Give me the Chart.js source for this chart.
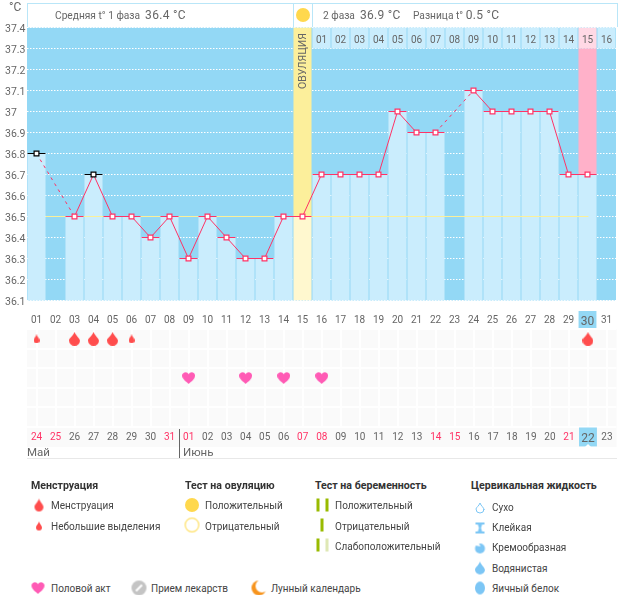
<!DOCTYPE html>
<html lang="ru">
<head>
<meta charset="utf-8">
<title>График</title>
<script src="https://cdn.jsdelivr.net/npm/chart.js@4"></script>
<style>
html, body { margin: 0; padding: 0; background: #fff; }
#page { position: relative; width: 626px; height: 595px; overflow: hidden; font-family: Roboto, sans-serif; color: #444; }
#page canvas.chart { position: absolute; left: 0; }
.t { position: absolute; white-space: nowrap; transform: translateY(-50%); line-height: 1; }
.box { position: absolute; top: 3px; height: 23px; background: #fff; border: 1px solid #b9e6f8; border-bottom: 0; }
.ic { position: absolute; transform: translate(-50%, -50%); }
.head { font-size: 10.2px; color: #666; }
.head b { font-weight: 400; font-size: 12px; letter-spacing: 0.3px; }
.ttl { font-size: 10.6px; font-weight: 700; color: #333; }
.lbl { font-size: 10px; color: #444; }
.line { position: absolute; }
</style>
</head>
<body>
<div id="page">
  <canvas class="chart" id="tempChart" width="626" height="330" style="top:0"></canvas>
  <canvas class="chart" id="markChart" width="626" height="123" style="top:324px"></canvas>
  <div class="box" style="left:27px;width:265px"></div>
  <div class="box" style="left:293px;width:18px"></div>
  <div class="box" style="left:312px;width:304px"></div>
  <div class="t" style="left:9px;top:7px;font-size:12px;color:#666">°C</div>
  <div class="t head" style="left:55px;top:15px">Средняя t° 1 фаза&nbsp; <b>36.4 °C</b></div>
  <div class="t head" style="left:323px;top:15px">2 фаза&nbsp; <b>36.9 °C</b></div>
  <div class="t head" style="left:413px;top:15px">Разница t°&nbsp;<b>0.5 °C</b></div>
  <div class="t" style="left:302.5px;top:61px;font-size:10.5px;color:#666;transform:translate(-50%,-50%) rotate(-90deg)">ОВУЛЯЦИЯ</div>
  <div class="line" style="left:179px;top:429px;width:1px;height:29px;background:#666"></div>
  <div class="line" style="left:27px;top:458px;width:590px;height:1px;background:#e8e8e8"></div>
  <div class="line" style="left:585px;top:441px;border:3px solid transparent;border-bottom-color:#fff"></div>
  <div class="t" style="left:27px;top:453px;font-size:11.5px;color:#666">Май</div>
  <div class="t" style="left:183px;top:453px;font-size:11.5px;color:#666">Июнь</div>
</div>
<script>
// Cycle days on the lower axis and second phase days in the top row
const cycleDays = ['01','02','03','04','05','06','07','08','09','10','11','12','13','14','15','16','17','18','19','20','21','22','23','24','25','26','27','28','29','30','31'];
const phaseDays = ['','','','','','','','','','','','','','','','01','02','03','04','05','06','07','08','09','10','11','12','13','14','15','16'];
const calendarDates = ['24','25','26','27','28','29','30','31','01','02','03','04','05','06','07','08','09','10','11','12','13','14','15','16','17','18','19','20','21','22','23'];
const redDates = [0, 1, 7, 8, 14, 15, 21, 22, 28];
const todayIndex = 29;
const ovulationIndex = 14;

const temps = [36.8,null,36.5,36.7,36.5,36.5,36.4,36.5,36.3,36.5,36.4,36.3,36.3,36.5,36.5,36.7,36.7,36.7,36.7,37,36.9,36.9,null,37.1,37,37,37,37,36.7,36.7,null];
const blackMarks = [0, 3];
const meanLine = [{x: 1.47, y: 36.5}, {x: 30.05, y: 36.5}];

// Columns filled above the temperature: ovulation day and period start
const topBands = cycleDays.map(() => null);
topBands[ovulationIndex] = [36.5, 37.4];
topBands[todayIndex] = [36.7, 37.3];
const phaseCells = phaseDays.map(d => d ? [37.3, 37.4] : null);

const heavyFlow = [null,null,0.5,0.5,0.5,null,null,null,null,null,null,null,null,null,null,null,null,null,null,null,null,null,null,null,null,null,null,null,null,0.5,null];
const lightFlow = [0.5,null,null,null,null,0.5,null,null,null,null,null,null,null,null,null,null,null,null,null,null,null,null,null,null,null,null,null,null,null,null,null];
const hearts = [null,null,null,null,null,null,null,null,2.5,null,null,2.5,null,2.5,null,2.5,null,null,null,null,null,null,null,null,null,null,null,null,null,null,null];

const COL_BLUE = '#93d8f5';
const COL_LIGHT = '#caedfd';
const COL_RED = '#ff3366';
const TICK_GREY = '#666';

Chart.defaults.font.family = 'Roboto, sans-serif';
Chart.defaults.font.size = 10;
Chart.defaults.animation = false;
Chart.defaults.responsive = false;
Chart.defaults.events = [];

// fills the plot area (and the tick band under it, if asked) before anything else
const areaFill = {
    id: 'areaFill',
    beforeDraw(chart, args, opts) {
        const a = chart.chartArea;
        chart.ctx.fillStyle = opts.color;
        chart.ctx.fillRect(a.left, a.top, a.right - a.left, a.bottom - a.top + (opts.below || 0));
    }
};

function makeIcon(w, h, draw) {
    const c = document.createElement('canvas');
    c.width = w;
    c.height = h;
    draw(c.getContext('2d'), w, h);
    return c;
}

function dropPath(g, w, h) {
    g.beginPath();
    g.moveTo(w / 2, 0);
    g.bezierCurveTo(w * 0.62, h * 0.3, w, h * 0.45, w, h * 0.68);
    g.arc(w / 2, h - w / 2, w / 2, 0, Math.PI);
    g.bezierCurveTo(0, h * 0.45, w * 0.38, h * 0.3, w / 2, 0);
    g.closePath();
}

function drop(w, h, color) {
    return makeIcon(w, h, g => { dropPath(g, w, h); g.fillStyle = color; g.fill(); });
}

function heart(w, h, color) {
    return makeIcon(w, h, g => {
        g.beginPath();
        g.moveTo(w / 2, h);
        g.bezierCurveTo(w * 0.3, h * 0.8, 0, h * 0.6, 0, h * 0.3);
        g.bezierCurveTo(0, 0, w * 0.4, -h * 0.1, w / 2, h * 0.2);
        g.bezierCurveTo(w * 0.6, -h * 0.1, w, 0, w, h * 0.3);
        g.bezierCurveTo(w, h * 0.6, w * 0.7, h * 0.8, w / 2, h);
        g.closePath();
        g.fillStyle = color;
        g.fill();
    });
}

const tempChart = new Chart(document.getElementById('tempChart'), {
    data: {
        labels: cycleDays,
        datasets: [
            {
                type: 'line',
                data: temps,
                order: 1,
                spanGaps: true,
                borderColor: COL_RED,
                borderWidth: 1,
                tension: 0,
                segment: {
                    borderDash: ctx => ctx.p0.skip || ctx.p1.skip ? [3, 4] : undefined
                },
                pointStyle: 'rect',
                pointRadius: 3.4,
                pointBorderWidth: 1.2,
                pointBackgroundColor: '#fff',
                pointBorderColor: ctx => blackMarks.includes(ctx.dataIndex) ? '#000' : COL_RED
            },
            {
                type: 'line',
                data: temps,
                order: 2,
                showLine: false,
                pointStyle: 'line',
                pointRadius: 9,
                pointBorderWidth: 1,
                pointBorderColor: ctx => blackMarks.includes(ctx.dataIndex) ? '#000' : COL_RED
            },
            {
                type: 'line',
                data: meanLine,
                xAxisID: 'xDay',
                order: 3,
                borderColor: '#fbf09a',
                borderWidth: 1,
                pointRadius: 0
            },
            {
                type: 'bar',
                data: temps.map(t => t === null ? null : [36.1, t]),
                order: 4,
                grouped: false,
                barPercentage: 0.95,
                categoryPercentage: 1,
                backgroundColor: ctx => ctx.dataIndex === ovulationIndex ? '#fff8cf' : COL_LIGHT
            },
            {
                type: 'bar',
                data: topBands,
                order: 4,
                grouped: false,
                barPercentage: 0.95,
                categoryPercentage: 1,
                backgroundColor: ctx => ctx.dataIndex === ovulationIndex ? '#fcef9b' : '#ffb1c9'
            },
            {
                type: 'bar',
                data: phaseCells,
                order: 4,
                grouped: false,
                barPercentage: 0.95,
                categoryPercentage: 1,
                backgroundColor: ctx => ctx.dataIndex === todayIndex ? '#ffd9e5' : COL_LIGHT
            }
        ]
    },
    options: {
        maintainAspectRatio: false,
        layout: { padding: { top: 27.5, left: 5, right: 9.5 } },
        plugins: { legend: { display: false }, tooltip: { enabled: false }, areaFill: { color: COL_BLUE } },
        scales: {
            x: {
                type: 'category',
                offset: true,
                grid: { display: false },
                border: { display: false },
                afterFit: s => { s.height = 29.5; },
                ticks: {
                    autoSkip: false,
                    maxRotation: 0,
                    padding: 6,
                    color: TICK_GREY,
                    font: ctx => ({ size: ctx.index === todayIndex ? 12 : 10 }),
                    showLabelBackdrop: ctx => ctx.index === todayIndex,
                    backdropColor: COL_BLUE,
                    backdropPadding: { top: 3.5, bottom: 1, left: 2.2, right: 2.2 }
                }
            },
            // second phase days, the axis sits on the top edge of the plot
            xTop: {
                type: 'category',
                position: { y: 37.4 },
                labels: phaseDays,
                offset: true,
                grid: { display: false },
                border: { display: false },
                ticks: { autoSkip: false, maxRotation: 0, padding: -1, color: TICK_GREY, z: 1 }
            },
            xDay: { type: 'linear', display: false, min: 0.5, max: 31.5 },
            y: {
                min: 36.1,
                max: 37.4,
                grid: { color: '#fff', drawTicks: false, lineWidth: 1 },
                border: { display: false, dash: [1.5, 1.5] },
                afterFit: s => { s.width = 22; },
                ticks: {
                    stepSize: 0.1,
                    padding: 0,
                    labelOffset: 2,
                    crossAlign: 'far',
                    color: TICK_GREY,
                    font: { size: 10.5 },
                    callback: v => String(+v.toFixed(1))
                }
            }
        }
    },
    plugins: [areaFill]
});

const markChart = new Chart(document.getElementById('markChart'), {
    data: {
        labels: calendarDates,
        datasets: [
            { type: 'line', data: heavyFlow, showLine: false, pointStyle: drop(11, 14, '#ff4d4d') },
            { type: 'line', data: lightFlow, showLine: false, pointStyle: drop(6, 9, '#ff4d4d') },
            { type: 'line', data: hearts, showLine: false, pointStyle: heart(13, 12, '#ff5bb5') }
        ]
    },
    options: {
        maintainAspectRatio: false,
        layout: { padding: { right: 9.5 } },
        plugins: { legend: { display: false }, tooltip: { enabled: false }, areaFill: { color: '#fafafa', below: 20 } },
        scales: {
            x: {
                type: 'category',
                offset: true,
                grid: { color: '#fff', drawTicks: false, lineWidth: 2 },
                border: { display: false },
                afterFit: s => { s.height = 20; },
                ticks: {
                    autoSkip: false,
                    maxRotation: 0,
                    padding: 4.5,
                    color: ctx => redDates.includes(ctx.index) ? COL_RED : TICK_GREY,
                    font: ctx => ({ size: ctx.index === todayIndex ? 12 : 10 }),
                    showLabelBackdrop: ctx => ctx.index === todayIndex,
                    backdropColor: COL_BLUE,
                    backdropPadding: { top: 4, bottom: 0.5, left: 2.2, right: 2.2 }
                }
            },
            y: {
                min: 0,
                max: 5,
                reverse: true,
                grid: { color: '#fff', drawTicks: false, lineWidth: 2 },
                border: { display: false },
                afterFit: s => { s.width = 27; },
                ticks: { stepSize: 1, display: false }
            }
        }
    },
    plugins: [areaFill]
});

// Legend below the charts
const page = document.getElementById('page');

function putText(cls, x, y, text) {
    const el = document.createElement('div');
    el.className = 't ' + cls;
    el.style.left = x + 'px';
    el.style.top = y + 'px';
    el.textContent = text;
    page.appendChild(el);
}

function putIcon(x, y, icon) {
    icon.className = 'ic';
    icon.style.left = x + 'px';
    icon.style.top = y + 'px';
    page.appendChild(icon);
}

function disc(d, color) {
    return makeIcon(d, d, (g, w) => {
        g.beginPath();
        g.arc(w / 2, w / 2, w / 2, 0, Math.PI * 2);
        g.fillStyle = color;
        g.fill();
    });
}

function pill(color) {
    return makeIcon(3, 13, (g, w, h) => { g.fillStyle = color; g.fillRect(0, 0, w, h); });
}

const SKY = '#7cc6f5';

putText('ttl', 31, 486, 'Менструация');
putIcon(38.5, 505, drop(9, 13, '#ff4d4d'));
putText('lbl', 51, 505.5, 'Менструация');
putIcon(38.5, 526, drop(6, 9, '#ff4d4d'));
putText('lbl', 51, 526.5, 'Небольшие выделения');

putText('ttl', 185, 486, 'Тест на овуляцию');
putIcon(192, 505, disc(14, '#ffd84d'));
putText('lbl', 205, 505.5, 'Положительный');
putIcon(192, 525, makeIcon(15, 15, g => {
    g.beginPath();
    g.arc(7.5, 7.5, 6.8, 0, Math.PI * 2);
    g.strokeStyle = '#ffe066';
    g.lineWidth = 1.2;
    g.stroke();
}));
putText('lbl', 205, 526.5, 'Отрицательный');

putText('ttl', 315, 486, 'Тест на беременность');
putIcon(317.5, 505, pill('#99bb00'));
putIcon(326.5, 505, pill('#99bb00'));
putText('lbl', 335, 505.5, 'Положительный');
putIcon(322, 525, pill('#99bb00'));
putText('lbl', 335, 526.5, 'Отрицательный');
putIcon(317.5, 545, pill('#99bb00'));
putIcon(326.5, 545, pill('#dfe8b5'));
putText('lbl', 335, 546.5, 'Слабоположительный');

putText('ttl', 471, 486, 'Цервикальная жидкость');
putIcon(479.5, 508, makeIcon(10, 12, (g, w, h) => {
    g.translate(1, 1);
    dropPath(g, w - 2, h - 2);
    g.strokeStyle = SKY;
    g.lineWidth = 1;
    g.stroke();
}));
putText('lbl', 492, 507.5, 'Сухо');
putIcon(479.5, 528, makeIcon(9, 11, (g, w, h) => {
    g.fillStyle = SKY;
    g.fillRect(0, 0, w, 2);
    g.fillRect(0, h - 2, w, 2);
    g.beginPath();
    g.moveTo(2, 1);
    g.lineTo(w - 2, 1);
    g.lineTo(w / 2 + 1, h / 2);
    g.lineTo(w - 2, h - 1);
    g.lineTo(2, h - 1);
    g.lineTo(w / 2 - 1, h / 2);
    g.closePath();
    g.fill();
}));
putText('lbl', 492, 528, 'Клейкая');
putIcon(479.5, 548, makeIcon(11, 11, g => {
    g.beginPath();
    g.arc(5.5, 6, 5, 0, Math.PI * 2);
    g.fillStyle = SKY;
    g.fill();
    g.beginPath();
    g.moveTo(0, 0);
    g.lineTo(4, 0);
    g.lineTo(6, 4);
    g.lineTo(1, 3);
    g.closePath();
    g.fillStyle = '#fff';
    g.fill();
}));
putText('lbl', 492, 548, 'Кремообразная');
putIcon(479.5, 568, drop(10, 13, SKY));
putText('lbl', 492, 568.5, 'Водянистая');
putIcon(479.5, 588, makeIcon(10, 13, (g, w, h) => {
    g.beginPath();
    g.ellipse(w / 2, h / 2, w / 2, h / 2, 0, 0, Math.PI * 2);
    g.fillStyle = SKY;
    g.fill();
}));
putText('lbl', 492, 588.5, 'Яичный белок');

putIcon(37.5, 588, heart(13, 12, '#ff5bb5'));
putText('lbl', 51, 588.5, 'Половой акт');
putIcon(139, 588, makeIcon(15, 15, g => {
    g.beginPath();
    g.arc(7.5, 7.5, 7.5, 0, Math.PI * 2);
    g.fillStyle = '#c4c4c4';
    g.fill();
    g.beginPath();
    g.moveTo(4.5, 10.5);
    g.lineTo(10.5, 4.5);
    g.strokeStyle = '#fff';
    g.lineWidth = 2.2;
    g.stroke();
}));
putText('lbl', 151, 588.5, 'Прием лекарств');
putIcon(259, 588, makeIcon(15, 15, g => {
    g.beginPath();
    g.arc(7.5, 7.5, 7.5, 0, Math.PI * 2);
    g.fillStyle = '#f7941d';
    g.fill();
    g.globalCompositeOperation = 'destination-out';
    g.beginPath();
    g.arc(10.5, 5.5, 6.5, 0, Math.PI * 2);
    g.fill();
}));
putText('lbl', 271, 588.5, 'Лунный календарь');

// sun on the ovulation day
putIcon(302.5, 15, disc(14, '#ffd84d'));
</script>
</body>
</html>
